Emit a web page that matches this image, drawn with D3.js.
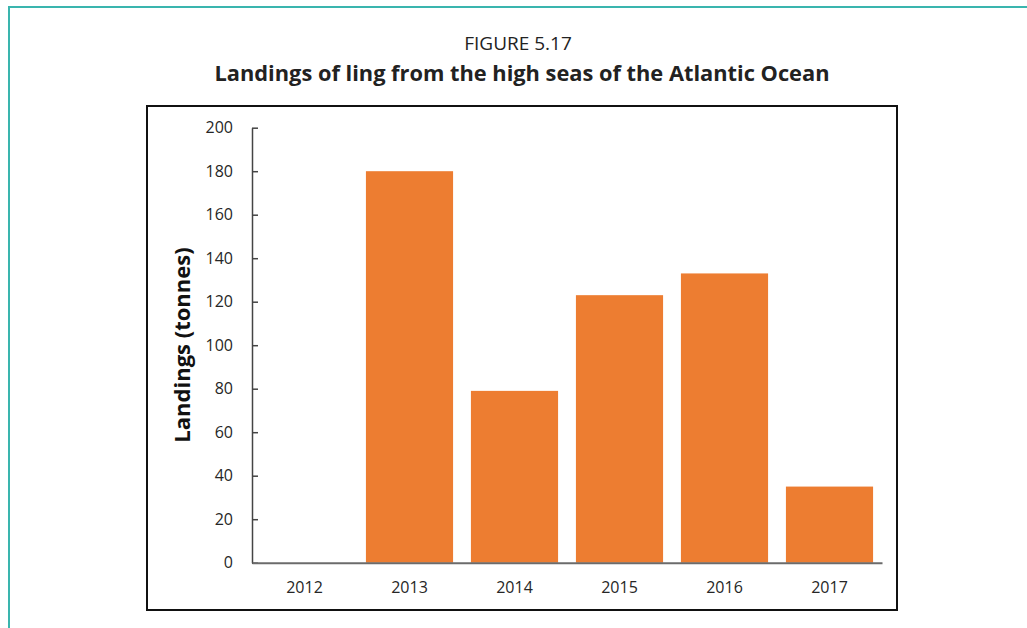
<!DOCTYPE html>
<html>
<head>
<meta charset="utf-8">
<script src="https://cdn.jsdelivr.net/npm/d3@7"></script>
<style>
  html, body { margin: 0; padding: 0; background: #fff; }
  svg { display: block; }
</style>
</head>
<body>
<svg id="chart" width="1027" height="628"></svg>
<script>
// Landings of ling (tonnes) by year
const years = ["2012", "2013", "2014", "2015", "2016", "2017"];
const landings = [0, 180, 79, 123, 133, 35];
const yTicks = [0, 20, 40, 60, 80, 100, 120, 140, 160, 180, 200];

const svg = d3.select("#chart");
const W = 1027, H = 628;

// outer teal page frame
svg.append("rect")
  .attr("x", 9).attr("y", 7)
  .attr("width", W + 20).attr("height", H + 20)
  .attr("fill", "none")
  .attr("stroke", "#3ab5ae")
  .attr("stroke-width", 2);

// headings
svg.append("text")
  .attr("x", 518).attr("y", 50)
  .attr("text-anchor", "middle")
  .attr("font-family", "Open Sans, sans-serif")
  .attr("font-size", 19)
  .attr("fill", "#222")
  .text("FIGURE 5.17");

svg.append("text")
  .attr("x", 522).attr("y", 81)
  .attr("text-anchor", "middle")
  .attr("font-family", "Open Sans, sans-serif")
  .attr("font-weight", "bold")
  .attr("font-size", 21.8)
  .attr("fill", "#222")
  .text("Landings of ling from the high seas of the Atlantic Ocean");

// chart frame
svg.append("rect")
  .attr("x", 147).attr("y", 106)
  .attr("width", 750).attr("height", 504)
  .attr("fill", "#fff")
  .attr("stroke", "#111")
  .attr("stroke-width", 2);

const plot = { left: 252, right: 882, top: 127.7, bottom: 562.7 };

const x = d3.scaleBand()
  .domain(years)
  .range([plot.left, plot.right])
  .paddingInner(0.17)
  .paddingOuter(0.085);

const y = d3.scaleLinear()
  .domain([0, 200])
  .range([plot.bottom, plot.top]);

// bars
svg.append("g")
  .selectAll("rect")
  .data(years.map((yr, i) => ({ yr, v: landings[i] })))
  .join("rect")
  .attr("x", d => x(d.yr))
  .attr("y", d => y(d.v))
  .attr("width", x.bandwidth())
  .attr("height", d => y(0) - y(d.v))
  .attr("fill", "#ed7d31");

// y axis with inward ticks
const yAxis = svg.append("g")
  .attr("transform", `translate(${plot.left},0)`)
  .call(d3.axisLeft(y).tickValues(yTicks).tickSizeInner(-6).tickSizeOuter(0).tickPadding(19));
yAxis.select(".domain").attr("stroke", "#444").attr("stroke-width", 1.5);
yAxis.selectAll(".tick line").attr("stroke", "#444").attr("stroke-width", 1.5);
yAxis.selectAll(".tick text")
  .attr("font-family", "Open Sans, sans-serif")
  .attr("font-size", 16)
  .attr("fill", "#262626");

// x axis
const xAxis = svg.append("g")
  .attr("transform", `translate(0,${plot.bottom})`)
  .call(d3.axisBottom(x).tickSize(0).tickPadding(19));
xAxis.select(".domain").attr("stroke", "#6b6b6b").attr("stroke-width", 2);
xAxis.selectAll(".tick text")
  .attr("font-family", "Open Sans, sans-serif")
  .attr("font-size", 16)
  .attr("fill", "#262626");

// y axis title
svg.append("text")
  .attr("transform", "translate(190,345) rotate(-90)")
  .attr("text-anchor", "middle")
  .attr("font-family", "Open Sans, sans-serif")
  .attr("font-weight", "bold")
  .attr("font-size", 22)
  .attr("fill", "#111")
  .text("Landings (tonnes)");
</script>
</body>
</html>
